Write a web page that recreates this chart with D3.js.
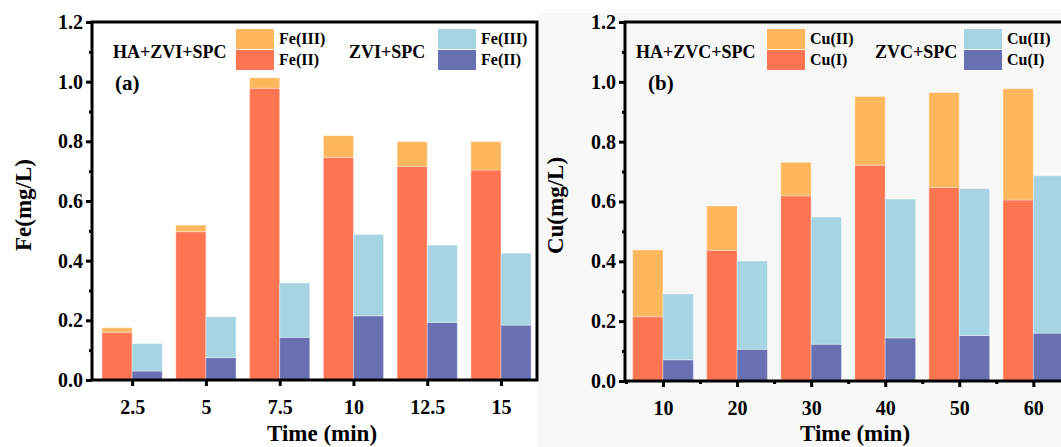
<!DOCTYPE html>
<html>
<head>
<style>
  body {
    margin: 0;
    background-color: #ffffff;
  }

  svg text {
    font-family: "Times New Roman", "Liberation Serif", serif;
    font-weight: bold;
    fill: #000;
  }
</style>
  <script src="https://d3js.org/d3.v7.min.js"></script>
</head>
<body>
<script>
// data (mg/L)
const feTime = [2.5, 5, 7.5, 10, 12.5, 15];
const feIIHa = [0.160, 0.497, 0.978, 0.746, 0.716, 0.704];
const feIIIHa = [0.015, 0.022, 0.035, 0.073, 0.083, 0.095];
const feIIZvi = [0.030, 0.075, 0.143, 0.215, 0.193, 0.184];
const feIIIZvi = [0.092, 0.137, 0.182, 0.273, 0.259, 0.241];

const cuTime = [10, 20, 30, 40, 50, 60];
const cuIHa = [0.215, 0.437, 0.619, 0.721, 0.647, 0.605];
const cuIIHa = [0.223, 0.148, 0.112, 0.230, 0.317, 0.372];
const cuIZvc = [0.071, 0.106, 0.123, 0.144, 0.152, 0.160];
const cuIIZvc = [0.220, 0.295, 0.425, 0.464, 0.491, 0.526];

const yTicks = [0, 0.2, 0.4, 0.6, 0.8, 1.0, 1.2];
const yMinor = [0.1, 0.3, 0.5, 0.7, 0.9, 1.1];
const cuMinor = [5, 15, 25, 35, 45, 55, 65];

const colors = {
  upper: '#ffb75d',
  lower: '#ff7552',
  upperB: '#a6d4e2',
  lowerB: '#6870b2',
};

const svg = d3.select('body')
  .append('svg')
  .attr('width', 1061)
  .attr('height', 447);

// grey backdrop of the right-hand figure
svg.append('rect')
  .attr('x', 538)
  .attr('y', 13)
  .attr('width', 523)
  .attr('height', 434)
  .attr('fill', '#f8f8f8');

const drawPanel = (p) => {
  const x = d3.scaleLinear().domain(p.xDomain).range([p.left, p.right]);
  const y = d3.scaleLinear().domain([0, 1.2]).range([p.bottom, p.top]);
  const g = svg.append('g');

  // stacked bars, one stack left of the tick and one right of it
  const groups = [
    { lower: p.lowerA, upper: p.upperA, side: -1, c: [colors.lower, colors.upper] },
    { lower: p.lowerB, upper: p.upperB, side: 0, c: [colors.lowerB, colors.upperB] },
  ];

  groups.forEach((grp) => {
    const rows = p.time.map((t, i) => ({ t: t, lower: grp.lower[i], upper: grp.upper[i] }));
    const series = d3.stack().keys(['lower', 'upper'])(rows);

    g.selectAll(null)
      .data(series)
      .join('g')
      .attr('fill', (d, i) => grp.c[i])
      .selectAll('rect')
      .data((d) => d)
      .join('rect')
      .attr('x', (d) => x(d.data.t + grp.side * p.barW))
      .attr('width', (d) => x(d.data.t + p.barW) - x(d.data.t))
      .attr('y', (d) => y(d[1]))
      .attr('height', (d) => y(d[0]) - y(d[1]))
      .attr('stroke', '#ffffff')
      .attr('stroke-opacity', 0.35)
      .attr('stroke-width', 1);
  });

  // frame
  g.append('rect')
    .attr('x', p.left)
    .attr('y', p.top)
    .attr('width', p.right - p.left)
    .attr('height', p.bottom - p.top)
    .attr('fill', 'none')
    .attr('stroke', '#000')
    .attr('stroke-width', 3);

  const yAxis = g.append('g')
    .attr('transform', `translate(${p.left},0)`)
    .call(d3.axisLeft(y).tickValues(yTicks).tickFormat(d3.format('.1f'))
      .tickSize(6).tickPadding(3).tickSizeOuter(0));

  const yAxisMinor = g.append('g')
    .attr('transform', `translate(${p.left},0)`)
    .call(d3.axisLeft(y).tickValues(yMinor).tickFormat('').tickSize(3).tickSizeOuter(0));

  const xAxis = g.append('g')
    .attr('transform', `translate(0,${p.bottom})`)
    .call(d3.axisBottom(x).tickValues(p.time).tickFormat((d) => d)
      .tickSize(6).tickPadding(14).tickSizeOuter(0));

  [yAxis, yAxisMinor, xAxis].forEach((a) => {
    a.select('.domain').remove();
    a.selectAll('line').attr('stroke', '#000').attr('stroke-width', 3);
    a.selectAll('text').attr('font-size', 20).attr('font-family', null);
  });

  if (p.xMinor) {
    const xAxisMinor = g.append('g')
      .attr('transform', `translate(0,${p.bottom})`)
      .call(d3.axisBottom(x).tickValues(p.xMinor).tickFormat('').tickSize(3).tickSizeOuter(0));
    xAxisMinor.select('.domain').remove();
    xAxisMinor.selectAll('line').attr('stroke', '#000').attr('stroke-width', 3);
  }

  // axis titles
  g.append('text')
    .attr('transform', `translate(${p.yLabelX},${(p.top + p.bottom) / 2 + 4}) rotate(-90)`)
    .attr('text-anchor', 'middle')
    .attr('dominant-baseline', 'central')
    .attr('font-size', 23)
    .text(p.yLabel);

  g.append('text')
    .attr('x', p.xLabelX)
    .attr('y', 441)
    .attr('text-anchor', 'middle')
    .attr('font-size', 23)
    .text('Time (min)');

  // panel letter
  g.append('text')
    .attr('x', p.left + 23)
    .attr('y', 90)
    .attr('font-size', 21)
    .text(p.letter);

  // legends
  p.legends.forEach((lg) => {
    g.append('text')
      .attr('x', lg.x)
      .attr('y', 58)
      .attr('font-size', 18)
      .text(lg.title);

    lg.items.forEach((it, i) => {
      const sy = 29 + i * 21;
      g.append('rect')
        .attr('x', lg.sx)
        .attr('y', sy)
        .attr('width', 38)
        .attr('height', 20)
        .attr('fill', it.color);
      g.append('text')
        .attr('x', lg.sx + 43)
        .attr('y', sy + 15)
        .attr('font-size', 16)
        .text(it.label);
    });
  });
};

drawPanel({
  left: 92,
  right: 537,
  top: 22,
  bottom: 380,
  xDomain: [1.14, 16.22],
  barW: 1.02,
  time: feTime,
  lowerA: feIIHa,
  upperA: feIIIHa,
  lowerB: feIIZvi,
  upperB: feIIIZvi,
  yLabel: 'Fe(mg/L)',
  yLabelX: 23,
  xLabelX: 322,
  letter: '(a)',
  legends: [
    { title: 'HA+ZVI+SPC', x: 113, sx: 236,
      items: [{ label: 'Fe(III)', color: colors.upper }, { label: 'Fe(II)', color: colors.lower }] },
    { title: 'ZVI+SPC', x: 349, sx: 438,
      items: [{ label: 'Fe(III)', color: colors.upperB }, { label: 'Fe(II)', color: colors.lowerB }] },
  ],
});

drawPanel({
  left: 625,
  right: 1080,
  top: 22,
  bottom: 381,
  xDomain: [4.87, 66.3],
  barW: 4.1,
  time: cuTime,
  xMinor: cuMinor,
  lowerA: cuIHa,
  upperA: cuIIHa,
  lowerB: cuIZvc,
  upperB: cuIIZvc,
  yLabel: 'Cu(mg/L)',
  yLabelX: 555,
  xLabelX: 855,
  letter: '(b)',
  legends: [
    { title: 'HA+ZVC+SPC', x: 636, sx: 767,
      items: [{ label: 'Cu(II)', color: colors.upper }, { label: 'Cu(I)', color: colors.lower }] },
    { title: 'ZVC+SPC', x: 875, sx: 964,
      items: [{ label: 'Cu(II)', color: colors.upperB }, { label: 'Cu(I)', color: colors.lowerB }] },
  ],
});
</script>
</body>
</html>
